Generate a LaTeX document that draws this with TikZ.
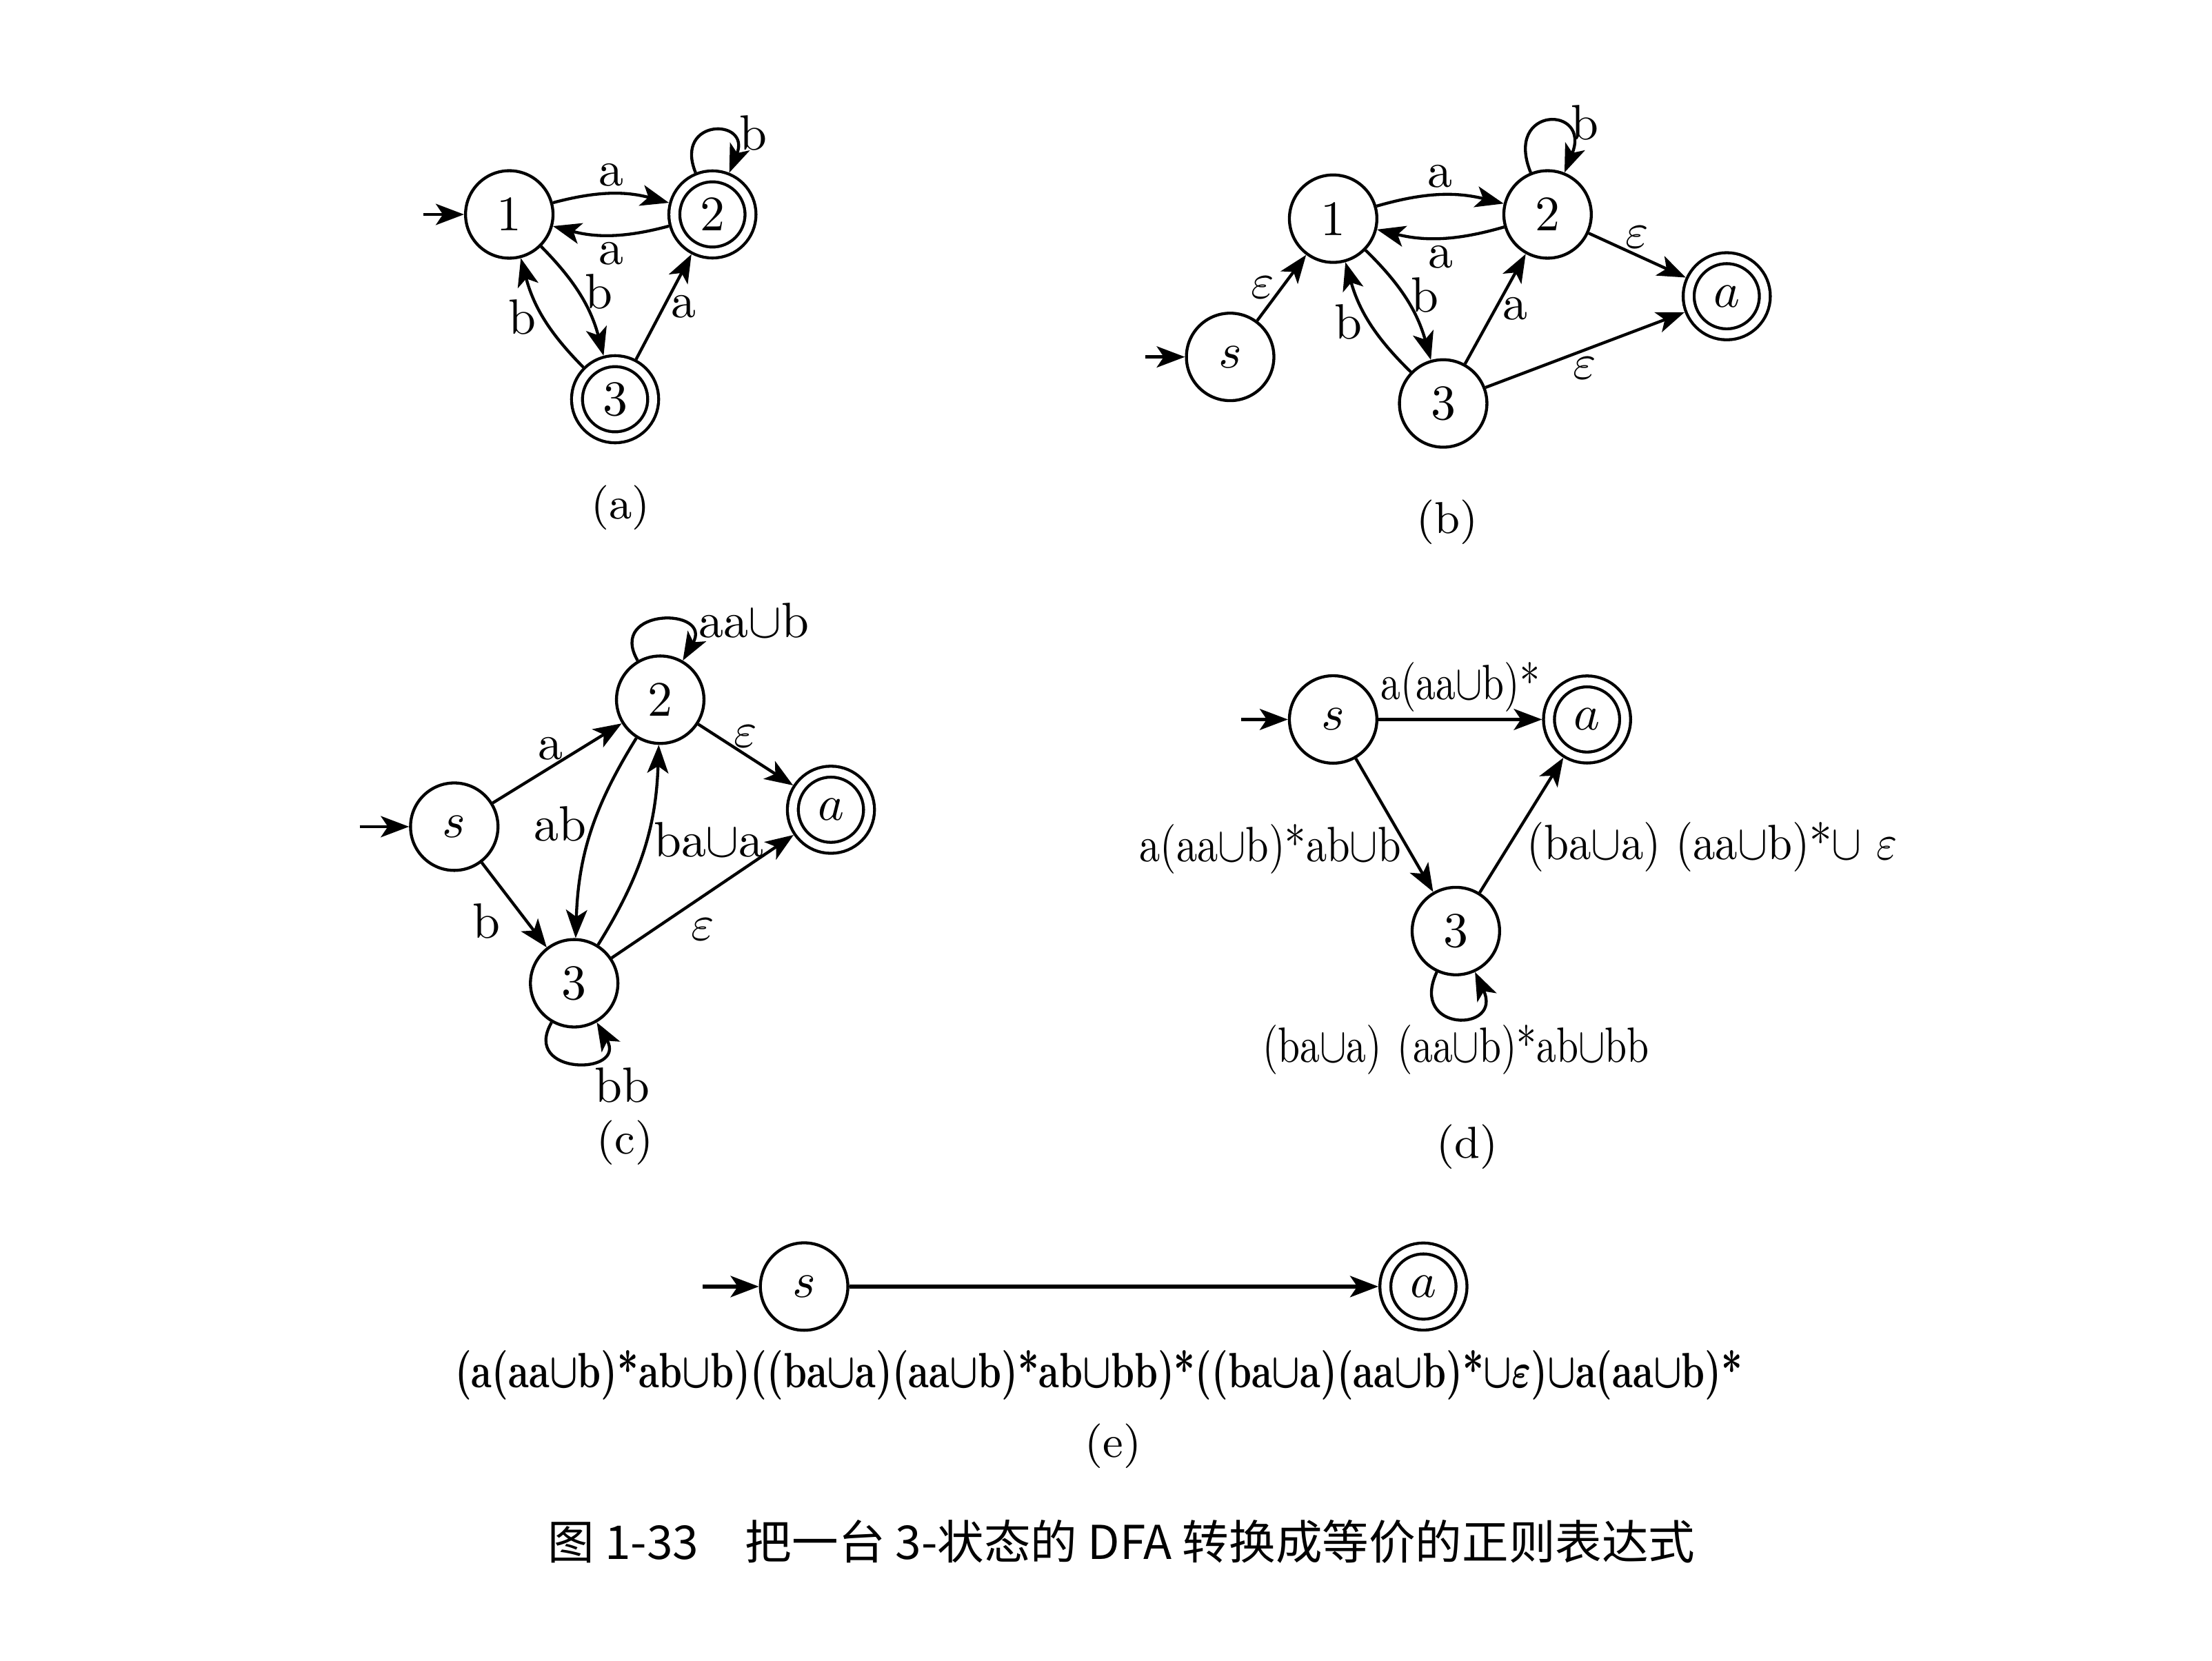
\documentclass[tikz,border=0pt]{standalone}
\usepackage{amsmath}
\usepackage{fontspec}
\newfontfamily\cjk{Noto Sans CJK SC}
\usetikzlibrary{arrows.meta}

\newcommand{\nar}[1]{\scalebox{0.8}[1]{#1}}

\begin{document}
\begin{tikzpicture}[
	>={Stealth[length=2mm,width=1.5mm,inset=0.5mm]},
	every node/.style={inner sep=1.2pt},
	state/.style={shape=circle,draw=black,semithick,minimum size=0.62cm,inner sep=0pt},
	accept/.style={state,minimum size=0.54cm,double,double distance=1.6pt,outer sep=1.4pt},
	subcap/.style={font=\small}
]
	\useasboundingbox (0,0) rectangle (15.68,-11.77);

	% (a)
	\node[state]  (a1) at (3.61,-1.52) {1};
	\node[accept] (a2) at (5.05,-1.52) {2};
	\node[accept] (a3) at (4.36,-2.83) {3};
	\coordinate (ai) at (3.00,-1.52);

	\path[->, semithick] (ai) edge (a1);
	\path[->, semithick] (a1) edge[bend left=15] node[above]{a} (a2);
	\path[->, semithick] (a2) edge[bend left=15] node[below]{a} (a1);
	\path[->, semithick] (a1) edge[bend left=15] node[right,pos=0.45]{b} (a3);
	\path[->, semithick] (a3) edge[bend left=15] node[left]{b} (a1);
	\path[->, semithick] (a3) edge node[right]{a} (a2);
	\path[->, semithick] (a2) edge[out=112,in=68,looseness=4.5] node[pos=0.6,right=0.08cm]{b} (a2);
	\node[subcap] (acap) at (4.40,-3.60) {(a)};

	% (b)
	\node[state]  (bs) at (8.72,-2.53)  {$s$};
	\node[state]  (b1) at (9.45,-1.55)  {1};
	\node[state]  (b2) at (10.97,-1.52) {2};
	\node[state]  (b3) at (10.23,-2.86) {3};
	\node[accept] (bf) at (12.24,-2.10) {$a$};
	\coordinate (bi) at (8.12,-2.53);

	\path[->, semithick] (bi) edge (bs);
	\path[->, semithick] (bs) edge node[left]{$\varepsilon$} (b1);
	\path[->, semithick] (b1) edge[bend left=15] node[above]{a} (b2);
	\path[->, semithick] (b2) edge[bend left=15] node[below]{a} (b1);
	\path[->, semithick] (b1) edge[bend left=15] node[right,pos=0.45]{b} (b3);
	\path[->, semithick] (b3) edge[bend left=15] node[left]{b} (b1);
	\path[->, semithick] (b3) edge node[right]{a} (b2);
	\path[->, semithick] (b2) edge[out=112,in=68,looseness=5.5] node[pos=0.55,right=0.08cm]{b} (b2);
	\path[->, semithick] (b2) edge node[above]{$\varepsilon$} (bf);
	\path[->, semithick] (b3) edge node[below]{$\varepsilon$} (bf);
	\node[subcap] (bcap) at (10.26,-3.70) {(b)};

	% (c)
	\node[state]  (cs) at (3.22,-5.86) {$s$};
	\node[state]  (c2) at (4.68,-4.96) {2};
	\node[state]  (c3) at (4.07,-6.97) {3};
	\node[accept] (cf) at (5.89,-5.74) {$a$};
	\coordinate (ci) at (2.55,-5.86);

	\path[->, semithick] (ci) edge (cs);
	\path[->, semithick] (cs) edge node[above,pos=0.45]{a} (c2);
	\path[->, semithick] (cs) edge node[below left,pos=0.4]{b} (c3);
	\path[->, semithick] (c2) edge[bend right=15] node[left,pos=0.45]{ab} (c3);
	\path[->, semithick] (c3) edge[bend right=15] node[right,pos=0.55]{ba$\cup$a} (c2);
	\path[->, semithick] (c2) edge node[above]{$\varepsilon$} (cf);
	\path[->, semithick] (c3) edge node[below=3pt]{$\varepsilon$} (cf);
	\path[->, semithick] (c2) edge[out=120,in=60,looseness=3.5] node[pos=0.5,right=0.22cm]{aa$\cup$b} (c2);
	\path[->, semithick] (c3) edge[out=-120,in=-60,looseness=3.5] node[pos=0.62,below right]{bb} (c3);
	\node[subcap] (ccap) at (4.43,-8.10) {(c)};

	% (d)
	\node[state]  (ds) at (9.45,-5.10)  {$s$};
	\node[accept] (df) at (11.25,-5.10) {$a$};
	\node[state]  (d3) at (10.32,-6.60) {3};
	\coordinate (di) at (8.80,-5.10);

	\path[->, semithick] (di) edge (ds);
	\path[->, semithick] (ds) edge node[above]{\nar{a(aa$\cup$b)*}} (df);
	\path[->, semithick] (ds) edge node[left,pos=0.68]{\scalebox{0.84}[1]{a(aa$\cup$b)*ab$\cup$b}} (d3);
	\path[->, semithick] (d3) edge node[right=0.8mm,pos=0.34]{\scalebox{0.9}[1]{(ba$\cup$a) (aa$\cup$b)*$\cup$ $\varepsilon$}} (df);
	\path[->, semithick] (d3) edge[out=-115,in=-65,looseness=4.5] node[below]{\nar{(ba$\cup$a)\hspace{4pt}(aa$\cup$b)*ab$\cup$bb}} (d3);
	\node[subcap] (dcap) at (10.40,-8.13) {(d)};

	% (e)
	\node[state]  (es) at (5.70,-9.12)  {$s$};
	\node[accept] (ef) at (10.09,-9.12) {$a$};
	\coordinate (ei) at (4.98,-9.12);

	\path[->, thick] (ei) edge (es);
	\path[->, thick] (es) edge (ef);
	\node (eexp) at (7.79,-9.75) {\scalebox{0.74}[1]{\textbf{(a(aa$\boldsymbol\cup$b)*ab$\boldsymbol\cup$b)((ba$\boldsymbol\cup$a)(aa$\boldsymbol\cup$b)*ab$\boldsymbol\cup$bb)*((ba$\boldsymbol\cup$a)(aa$\boldsymbol\cup$b)*$\boldsymbol\cup\boldsymbol\varepsilon$)$\boldsymbol\cup$a(aa$\boldsymbol\cup$b)*}}};
	\node[subcap] (ecap) at (7.89,-10.25) {(e)};

	% caption
	\node (fig) at (7.95,-10.93) {\fontsize{9.4}{11}\selectfont\cjk 图 1-33\quad 把一台 3-状态的 DFA 转换成等价的正则表达式};
\end{tikzpicture}
\end{document}
